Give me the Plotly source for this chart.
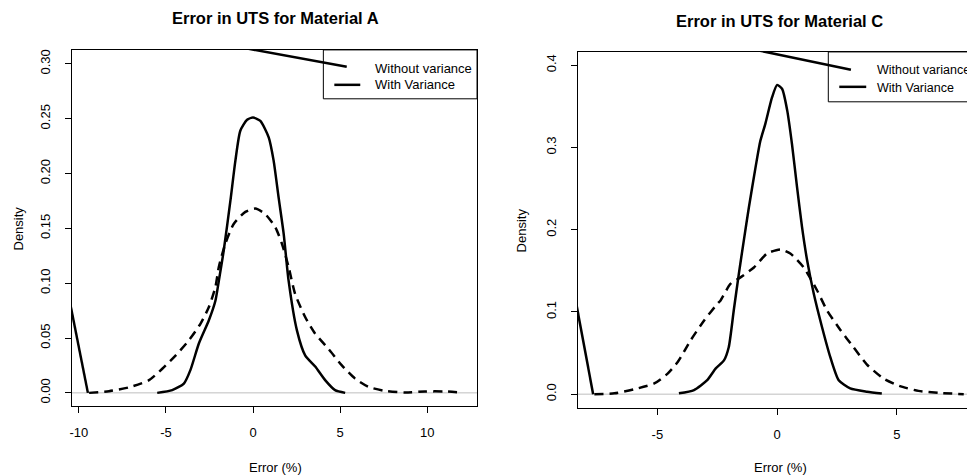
import plotly.graph_objects as go

# ---------------- Material A ----------------
a_with_x = [-5.5, -4.64, -3.97, -3.59, -3.11, -2.54, -2.16, -1.96, -1.68, -1.30, -1.01, -0.73, -0.34, 0.0,
            0.42, 0.90, 1.18, 1.47, 1.76, 2.04, 2.52, 3.0, 3.57, 4.14, 4.71, 5.29]
a_with_y = [0.0, 0.0025, 0.0085, 0.021, 0.045, 0.066, 0.084, 0.1025, 0.130, 0.175, 0.212, 0.239, 0.249, 0.251,
            0.248, 0.233, 0.212, 0.178, 0.145, 0.1025, 0.057, 0.034, 0.024, 0.0116, 0.0025, 0.0]
a_without_x = [-9.41, -8.27, -7.12, -5.97, -5.21, -4.45, -3.68, -3.02, -2.54, -2.16, -1.96, -1.59,
               -1.11, -0.44, 0.13, 0.70, 1.28, 1.66, 2.04, 2.42, 3.0, 3.57, 4.34, 5.10, 5.86, 6.62,
               7.58, 8.73, 9.87, 11.0, 11.97]
a_without_y = [0.0, 0.0015, 0.005, 0.0116, 0.022, 0.034, 0.048, 0.063, 0.078, 0.0965, 0.115, 0.136,
               0.154, 0.165, 0.168, 0.163, 0.151, 0.136, 0.115, 0.090, 0.069, 0.054, 0.040, 0.025, 0.013,
               0.0055, 0.0018, 0.0004, 0.0013, 0.0013, 0.0004]
# stray segments drawn by the original plot
a_edge_x = [-10.7, -9.48]
a_edge_y = [0.0977, 0.0]
a_top_x = [-1.0, 5.38]
a_top_y = [0.3159, 0.2973]

a_xticks = [-10, -5, 0, 5, 10]
a_xticklabels = ["-10", "-5", "0", "5", "10"]
a_yticks = [0.0, 0.05, 0.10, 0.15, 0.20, 0.25, 0.30]
a_yticklabels = ["0.00", "0.05", "0.10", "0.15", "0.20", "0.25", "0.30"]

# ---------------- Material C ----------------
c_with_x = [-4.10, -3.47, -2.92, -2.57, -2.22, -2.02, -1.81, -1.60, -1.39, -1.18, -0.90, -0.70, -0.49,
            -0.21, 0.0, 0.21, 0.42, 0.62, 0.83, 1.04, 1.25, 1.53, 1.87, 2.22, 2.57, 3.05, 3.75, 4.37]
c_with_y = [0.001, 0.005, 0.017, 0.031, 0.041, 0.057, 0.102, 0.146, 0.187, 0.227, 0.276, 0.308, 0.329,
            0.361, 0.376, 0.371, 0.345, 0.304, 0.252, 0.203, 0.163, 0.122, 0.082, 0.045, 0.017, 0.007,
            0.003, 0.0008]
c_without_x = [-7.63, -6.79, -5.96, -5.13, -4.57, -4.15, -3.60, -3.04, -2.49, -2.36, -1.95, -1.53, -0.97,
               -0.42, 0.14, 0.55, 1.11, 1.67, 2.08, 2.64, 3.19, 3.75, 4.44, 5.10, 5.90, 6.73, 7.79]
c_without_y = [0.0, 0.001, 0.006, 0.013, 0.025, 0.039, 0.066, 0.090, 0.110, 0.114, 0.134, 0.142, 0.154,
               0.171, 0.176, 0.171, 0.154, 0.126, 0.102, 0.078, 0.057, 0.036, 0.019, 0.010, 0.004,
               0.0016, 0.0]
c_edge_x = [-8.6, -7.68]
c_edge_y = [0.1435, 0.0]
c_top_x = [-1.5, 3.08]
c_top_y = [0.4223, 0.3943]

c_xticks = [-5, 0, 5]
c_xticklabels = ["-5", "0", "5"]
c_yticks = [0.0, 0.1, 0.2, 0.3, 0.4]
c_yticklabels = ["0.0", "0.1", "0.2", "0.3", "0.4"]

titles = ["Error in UTS for Material A", "Error in UTS for Material C"]
legend_labels = ["Without variance", "With Variance"]
x_title = "Error (%)"
y_title = "Density"

FONT = "Liberation Sans, Arial, Helvetica, sans-serif"
OFF = 8  # page body margin of the browser
W, H = 975 - OFF, 475 - OFF
LW = 2.5


def px(v):
    return (v - OFF) / W


def py(v):
    return 1 - (v - OFF) / H


fig = go.Figure()


def add_panel(xa, ya, wx, wy, wox, woy, ex, ey, tx, ty):
    fig.add_trace(go.Scatter(x=wx, y=wy, mode="lines", xaxis=xa, yaxis=ya,
                             line=dict(color="black", width=LW, shape="spline", smoothing=0.6),
                             showlegend=False, hoverinfo="skip"))
    fig.add_trace(go.Scatter(x=wox, y=woy, mode="lines", xaxis=xa, yaxis=ya,
                             line=dict(color="black", width=LW, dash="9px,6px", shape="spline", smoothing=0.6),
                             showlegend=False, hoverinfo="skip"))
    fig.add_trace(go.Scatter(x=ex, y=ey, mode="lines", xaxis=xa, yaxis=ya,
                             line=dict(color="black", width=LW), showlegend=False, hoverinfo="skip"))
    fig.add_trace(go.Scatter(x=tx, y=ty, mode="lines", xaxis=xa, yaxis=ya,
                             line=dict(color="black", width=LW), showlegend=False, hoverinfo="skip"))


add_panel("x", "y", a_with_x, a_with_y, a_without_x, a_without_y, a_edge_x, a_edge_y, a_top_x, a_top_y)
add_panel("x2", "y2", c_with_x, c_with_y, c_without_x, c_without_y, c_edge_x, c_edge_y, c_top_x, c_top_y)

axis_common = dict(showgrid=False, zeroline=False, showline=True, linecolor="black", linewidth=1,
                   ticks="outside", ticklen=6, tickcolor="black", tickwidth=1,
                   tickfont=dict(family=FONT, size=13, color="black"))

fig.update_layout(
    width=W, height=H, margin=dict(l=0, r=0, t=0, b=0),
    paper_bgcolor="white", plot_bgcolor="white", showlegend=False,
    xaxis=dict(domain=[px(70), px(476)], range=[-10.4, 12.86], anchor="y", mirror=True,
               tickvals=a_xticks, ticktext=a_xticklabels, ticklabelstandoff=8, **axis_common),
    yaxis=dict(domain=[py(406), py(49)], range=[-0.0121, 0.3127], anchor="x", mirror=True,
               tickvals=a_yticks, ticktext=a_yticklabels, tickangle=-90, ticklabelstandoff=10, **axis_common),
    xaxis2=dict(domain=[px(577), 1.0], range=[-8.32, 8.26], anchor="y2", mirror=True,
                tickvals=c_xticks, ticktext=c_xticklabels, ticklabelstandoff=8, **axis_common),
    yaxis2=dict(domain=[py(408), py(51)], range=[-0.017, 0.4161], anchor="x2", mirror=False,
                tickvals=c_yticks, ticktext=c_yticklabels, tickangle=-90, ticklabelstandoff=10, **axis_common),
)

shapes = []
# zero reference lines
for xr, yr in (("x", "y"), ("x2", "y2")):
    shapes.append(dict(type="line", xref=xr + " domain", yref=yr, x0=0, x1=1, y0=0, y1=0,
                       line=dict(color="#bebebe", width=1), layer="below"))
# legend boxes
shapes.append(dict(type="rect", xref="paper", yref="paper", x0=px(322), x1=px(476), y0=py(98), y1=py(49),
                   line=dict(color="black", width=1), fillcolor="white", layer="below"))
shapes.append(dict(type="rect", xref="paper", yref="paper", x0=px(828), x1=px(990), y0=py(101), y1=py(51),
                   line=dict(color="black", width=1), fillcolor="white", layer="below"))
# legend line samples
shapes.append(dict(type="line", xref="paper", yref="paper", x0=px(333), x1=px(359), y0=py(84), y1=py(84),
                   line=dict(color="black", width=LW)))
shapes.append(dict(type="line", xref="paper", yref="paper", x0=px(839), x1=px(866), y0=py(86), y1=py(86),
                   line=dict(color="black", width=LW)))
fig.update_layout(shapes=shapes)

ann = []
tfont = dict(family=FONT, size=13, color="black")
# titles
ann.append(dict(text="<b>" + titles[0] + "</b>", x=px(274), y=py(17), xref="paper", yref="paper",
                showarrow=False, xanchor="center", yanchor="middle",
                font=dict(family=FONT, size=16.5, color="black")))
ann.append(dict(text="<b>" + titles[1] + "</b>", x=px(779), y=py(20), xref="paper", yref="paper",
                showarrow=False, xanchor="center", yanchor="middle",
                font=dict(family=FONT, size=16.5, color="black")))
# axis titles
for cx in (274, 780):
    ann.append(dict(text=x_title, x=px(cx), y=py(467), xref="paper", yref="paper", showarrow=False,
                    xanchor="center", yanchor="middle", font=tfont))
ann.append(dict(text=y_title, x=px(17), y=py(228), xref="paper", yref="paper", showarrow=False,
                textangle=-90, xanchor="center", yanchor="middle", font=tfont))
ann.append(dict(text=y_title, x=px(521), y=py(230), xref="paper", yref="paper", showarrow=False,
                textangle=-90, xanchor="center", yanchor="middle", font=tfont))
# legend texts
for (lx, ys, fs) in ((372, (68, 84), 13), (875, (69, 87), 12.5)):
    for lab, yy in zip(legend_labels, ys):
        ann.append(dict(text=lab, x=px(lx), y=py(yy), xref="paper", yref="paper", showarrow=False,
                        xanchor="left", yanchor="middle", font=dict(family=FONT, size=fs, color="black")))
fig.update_layout(annotations=ann)

fig.write_html("out.html")
